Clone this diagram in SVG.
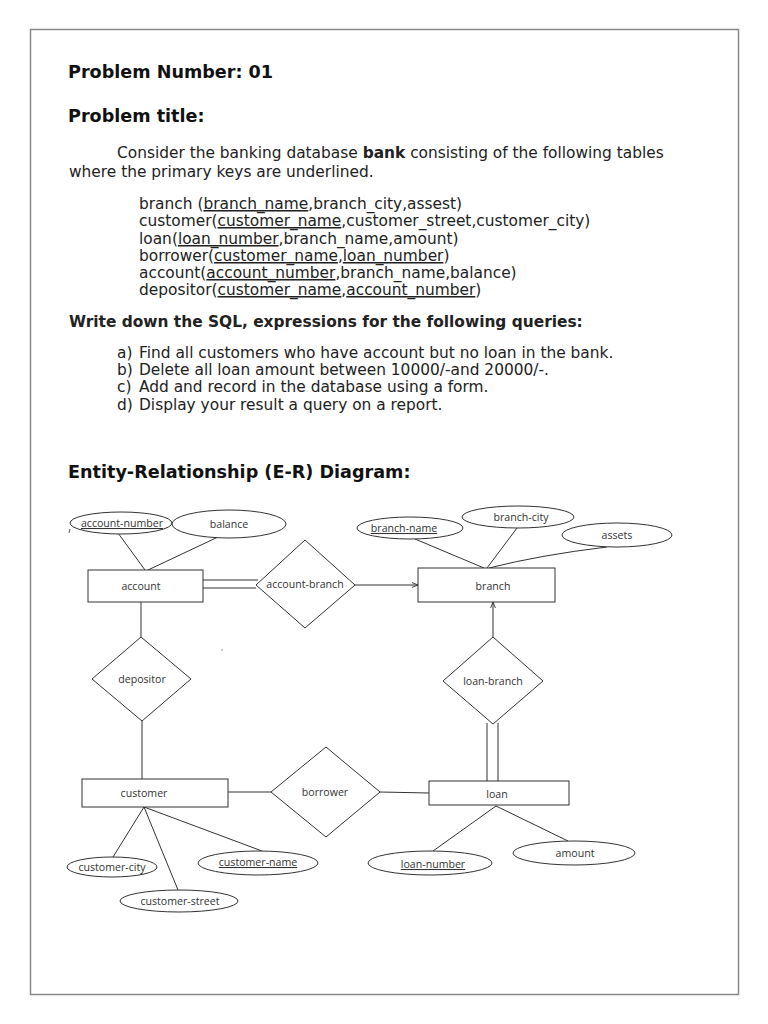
<svg xmlns="http://www.w3.org/2000/svg" width="768" height="1024" viewBox="0 0 768 1024">
<style>
.h{font-family:"DejaVu Sans",sans-serif;font-weight:bold;font-size:17.6px;fill:#111}
.b{font-family:"DejaVu Sans",sans-serif;font-size:15.4px;fill:#222}
.bb{font-family:"DejaVu Sans",sans-serif;font-size:15.4px;font-weight:bold;fill:#222}
.u{text-decoration:underline}
.l{font-family:"Open Sans","Liberation Sans",sans-serif;font-size:10.6px;fill:#333;text-anchor:middle}
.s{fill:#fff;stroke:#333;stroke-width:1}
.c{stroke:#333;stroke-width:1;fill:none}
</style>
<defs>
<marker id="ar" viewBox="0 0 10 10" refX="10" refY="5" markerWidth="6" markerHeight="6" orient="auto"><path d="M0,1 L10,5 L0,9" fill="none" stroke="#333" stroke-width="1.5"/></marker>
</defs>
<rect width="768" height="1024" fill="#fff"/>
<rect x="30.5" y="29.5" width="708" height="965" fill="none" stroke="#888" stroke-width="1.5"/>

<g id="text">
<text class="h" x="68" y="78">Problem Number: 01</text>
<text class="h" x="68" y="122">Problem title:</text>
<text class="b" x="117" y="158">Consider the banking database <tspan font-weight="bold">bank</tspan> consisting of the following tables</text>
<text class="b" x="69" y="177">where the primary keys are underlined.</text>
<text class="b" x="139" y="209">branch (<tspan class="u">branch_name</tspan>,branch_city,assest)</text>
<text class="b" x="139" y="226">customer(<tspan class="u">customer_name</tspan>,customer_street,customer_city)</text>
<text class="b" x="139" y="244">loan(<tspan class="u">loan_number</tspan>,branch_name,amount)</text>
<text class="b" x="139" y="261">borrower(<tspan class="u">customer_name</tspan>,<tspan class="u">loan_number</tspan>)</text>
<text class="b" x="139" y="278">account(<tspan class="u">account_number</tspan>,branch_name,balance)</text>
<text class="b" x="139" y="295">depositor(<tspan class="u">customer_name</tspan>,<tspan class="u">account_number</tspan>)</text>
<text class="bb" x="69" y="327">Write down the SQL, expressions for the following queries:</text>
<text class="b" x="117" y="358">a)</text><text class="b" x="139" y="358">Find all customers who have account but no loan in the bank.</text>
<text class="b" x="117" y="375">b)</text><text class="b" x="139" y="375">Delete all loan amount between 10000/-and 20000/-.</text>
<text class="b" x="117" y="392">c)</text><text class="b" x="139" y="392">Add and record in the database using a form.</text>
<text class="b" x="117" y="410">d)</text><text class="b" x="139" y="410">Display your result a query on a report.</text>
<text class="h" x="68" y="478">Entity-Relationship (E-R) Diagram:</text>
</g>

<g id="connectors">
<line class="c" x1="118" y1="533" x2="145" y2="570"/>
<line class="c" x1="218" y1="537" x2="148" y2="570"/>
<line class="c" x1="203" y1="580" x2="258" y2="580"/>
<line class="c" x1="203" y1="588" x2="256" y2="588"/>
<line class="c" x1="355" y1="585" x2="418" y2="585" marker-end="url(#ar)"/>
<line class="c" x1="415" y1="539" x2="484" y2="568"/>
<line class="c" x1="517" y1="528" x2="487" y2="568"/>
<path class="c" d="M607,547 Q540,555 489,568"/>
<line class="c" x1="493" y1="637" x2="493" y2="602" marker-end="url(#ar)"/>
<line class="c" x1="487" y1="723" x2="487" y2="781"/>
<line class="c" x1="498" y1="723" x2="498" y2="781"/>
<line class="c" x1="141" y1="602" x2="141" y2="637" stroke-width="1.5"/>
<line class="c" x1="142" y1="721" x2="142" y2="779" stroke-width="1.5"/>
<line class="c" x1="228" y1="792" x2="271" y2="792" stroke-width="1.3"/>
<line class="c" x1="380" y1="792" x2="429" y2="793" stroke-width="1.3"/>
<line class="c" x1="144" y1="807" x2="113" y2="857"/>
<line class="c" x1="144" y1="807" x2="178" y2="890"/>
<line class="c" x1="144" y1="807" x2="262" y2="851"/>
<line class="c" x1="496" y1="806" x2="433" y2="851"/>
<line class="c" x1="496" y1="806" x2="568" y2="841"/>
</g>

<g id="account-number"><ellipse class="s" cx="121" cy="523" rx="51" ry="11"/><text class="l u" x="122" y="527">account-number</text></g>
<g id="balance"><ellipse class="s" cx="229" cy="524" rx="57" ry="14"/><text class="l" x="229" y="528">balance</text></g>
<g id="account"><rect class="s" x="88" y="570" width="115" height="32"/><text class="l" x="141" y="590">account</text></g>
<g id="account-branch"><polygon class="s" points="305,540 355,585 305,628 256,585"/><text class="l" x="305" y="588">account-branch</text></g>
<g id="branch"><rect class="s" x="418" y="568" width="137" height="34" stroke-width="1.4"/><text class="l" x="493" y="590">branch</text></g>
<g id="branch-name"><ellipse class="s" cx="410" cy="528" rx="53" ry="11"/><text class="l u" x="404" y="532">branch-name</text></g>
<g id="branch-city"><ellipse class="s" cx="518" cy="517" rx="56" ry="11"/><text class="l" x="521" y="521">branch-city</text></g>
<g id="assets"><ellipse class="s" cx="617" cy="535" rx="55" ry="12"/><text class="l" x="617" y="539">assets</text></g>
<g id="depositor"><polygon class="s" points="141,637 191,679 142,721 92,679"/><text class="l" x="142" y="683">depositor</text></g>
<g id="loan-branch"><polygon class="s" points="493,637 543,681 493,724 443,681"/><text class="l" x="493" y="685">loan-branch</text></g>
<g id="customer"><rect class="s" x="82" y="779" width="146" height="28"/><text class="l" x="144" y="797">customer</text></g>
<g id="borrower"><polygon class="s" points="326,747 380,792 326,837 271,792"/><text class="l" x="325" y="796">borrower</text></g>
<g id="loan"><rect class="s" x="429" y="781" width="140" height="24"/><text class="l" x="497" y="798">loan</text></g>
<g id="customer-city"><ellipse class="s" cx="112" cy="867" rx="45" ry="10"/><text class="l" x="112" y="871">customer-city</text></g>
<g id="customer-street"><ellipse class="s" cx="179" cy="901" rx="59" ry="11"/><text class="l" x="180" y="905">customer-street</text></g>
<g id="customer-name"><ellipse class="s" cx="258" cy="863" rx="60" ry="12"/><text class="l u" x="258" y="866">customer-name</text></g>
<g id="loan-number"><ellipse class="s" cx="430" cy="863" rx="62" ry="12"/><text class="l u" x="433" y="868">loan-number</text></g>
<g id="amount"><ellipse class="s" cx="574" cy="853" rx="61" ry="12"/><text class="l" x="575" y="857">amount</text></g>
<g id="marks"><path d="M70,529 L69,533" stroke="#555" stroke-width="1"/><circle cx="222" cy="650" r="0.7" fill="#666"/></g>
</svg>
